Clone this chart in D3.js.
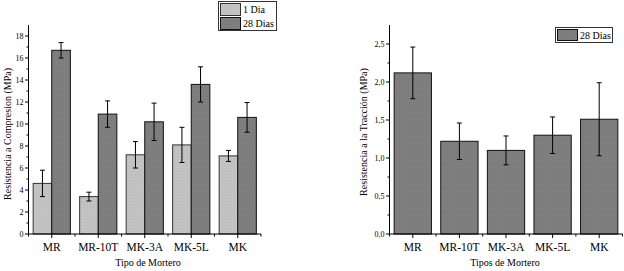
<!DOCTYPE html>
<html><head><meta charset="utf-8">
<script src="https://cdn.jsdelivr.net/npm/d3@7"></script>
<style>body{margin:0;background:#fff}svg{display:block}text{font-family:"Liberation Serif","Times New Roman",serif;fill:#000}</style>
</head><body><svg id="c" width="624" height="271"></svg>
<script>
const categories = ["MR","MR-10T","MK-3A","MK-5L","MK"];
const comp1Dia = [4.6,3.4,7.2,8.1,7.1];
const comp1DiaErr = [1.2,0.4,1.2,1.6,0.5];
const comp28Dias = [16.7,10.9,10.2,13.6,10.6];
const comp28DiasErr = [0.7,1.2,1.7,1.6,1.35];
const trac28Dias = [2.12,1.22,1.1,1.3,1.51];
const trac28DiasErr = [0.34,0.24,0.19,0.24,0.48];
const compTicks = [0,2,4,6,8,10,12,14,16,18];
const tracTicks = [0,0.5,1.0,1.5,2.0,2.5];

const light = "#c4c4c4", dark = "#808080";
const svg = d3.select("#c");
const defs = svg.append("defs");
function pat(id, base, dot){
  const p = defs.append("pattern").attr("id",id).attr("width",3).attr("height",3).attr("patternUnits","userSpaceOnUse");
  p.append("rect").attr("width",3).attr("height",3).attr("fill",base);
  p.append("rect").attr("x",0).attr("y",0).attr("width",1).attr("height",1).attr("fill",dot).attr("opacity",0.5);
  p.append("rect").attr("x",1.5).attr("y",1.5).attr("width",1).attr("height",1).attr("fill",dot).attr("opacity",0.3);
}
pat("pl", light, "#a8a8a8");
pat("pd", dark, "#6a6a6a");

function errBars(g, x, y, vals, errs){
  vals.forEach((v,i)=>{
    const cx = x(i), y1 = y(v+errs[i]), y2 = y(v-errs[i]);
    g.append("line").attr("x1",cx).attr("x2",cx).attr("y1",y1).attr("y2",y2).attr("stroke","#000").attr("stroke-width",1);
    [y1,y2].forEach(yy=>g.append("line").attr("x1",cx-2.5).attr("x2",cx+2.5).attr("y1",yy).attr("y2",yy).attr("stroke","#000").attr("stroke-width",1));
  });
}

function axes(g, x, y, ticks, minorTicks, fmt, x0, x1){
  // x axis
  g.append("line").attr("x1",x0).attr("x2",x1).attr("y1",y(0)).attr("y2",y(0)).attr("stroke","#000");
  const bw = x.bandwidth()/(1-x.paddingInner())*1;
  const step = x.step();
  categories.forEach((c,i)=>{
    const cx = x(c)+x.bandwidth()/2;
    g.append("line").attr("x1",cx).attr("x2",cx).attr("y1",y(0)).attr("y2",y(0)+4).attr("stroke","#000");
    g.append("text").attr("x",cx).attr("y",y(0)+17).attr("text-anchor","middle").attr("font-size",11.5).text(c);
  });
  for(let i=0;i<=categories.length;i++){
    const bx = x0 + i*step;
    g.append("line").attr("x1",bx).attr("x2",bx).attr("y1",y(0)).attr("y2",y(0)+2.5).attr("stroke","#000");
  }
  // y axis
  g.append("line").attr("x1",x0).attr("x2",x0).attr("y1",y(0)).attr("y2",y.range()[1]).attr("stroke","#000");
  ticks.forEach(t=>{
    g.append("line").attr("x1",x0-3.5).attr("x2",x0).attr("y1",y(t)).attr("y2",y(t)).attr("stroke","#000");
    g.append("text").attr("x",x0-5).attr("y",y(t)+2.8).attr("text-anchor","end").attr("font-size",8).text(fmt(t));
  });
  minorTicks.forEach(t=>{
    g.append("line").attr("x1",x0-2).attr("x2",x0).attr("y1",y(t)).attr("y2",y(t)).attr("stroke","#000");
  });
}

// ---- Left chart
{
  const g = svg.append("g");
  const x0 = 28.5, x1 = 261;
  const x = d3.scaleBand().domain(categories).range([x0,x1]).paddingInner(0.2).paddingOuter(0.1);
  const y = d3.scaleLinear().domain([0,19]).range([234,25]);
  const bw = x.bandwidth()/2;
  categories.forEach((c,i)=>{
    g.append("rect").attr("x",x(c)).attr("y",y(comp1Dia[i])).attr("width",bw).attr("height",y(0)-y(comp1Dia[i]))
      .attr("fill","url(#pl)").attr("stroke","#333").attr("stroke-width",1);
    g.append("rect").attr("x",x(c)+bw).attr("y",y(comp28Dias[i])).attr("width",bw).attr("height",y(0)-y(comp28Dias[i]))
      .attr("fill","url(#pd)").attr("stroke","#111").attr("stroke-width",1);
  });
  errBars(g, i=>x(categories[i])+bw/2, y, comp1Dia, comp1DiaErr);
  errBars(g, i=>x(categories[i])+bw*1.5, y, comp28Dias, comp28DiasErr);
  const minor = d3.range(1,19,2);
  axes(g, x, y, compTicks, minor, d=>String(d), x0, x1);
  g.append("text").attr("x",148).attr("y",266).attr("text-anchor","middle").attr("font-size",10).text("Tipo de Mortero");
  g.append("text").attr("transform","translate(11,134) rotate(-90)").attr("text-anchor","middle").attr("font-size",10).text("Resistencia a Compresion (MPa)");
  // legend
  const lg = g.append("g");
  lg.append("rect").attr("x",218.5).attr("y",1.5).attr("width",58).attr("height",29).attr("fill","#fff").attr("stroke","#333");
  lg.append("rect").attr("x",220.5).attr("y",3.5).attr("width",20).attr("height",12).attr("fill","url(#pl)").attr("stroke","#333");
  lg.append("rect").attr("x",220.5).attr("y",17.5).attr("width",20).attr("height",12).attr("fill","url(#pd)").attr("stroke","#111");
  lg.append("text").attr("x",243).attr("y",13).attr("font-size",10).text("1 Dia");
  lg.append("text").attr("x",243).attr("y",27).attr("font-size",10).text("28 Dias");
}

// ---- Right chart
{
  const g = svg.append("g");
  const x0 = 389.5, x1 = 622.5;
  const x = d3.scaleBand().domain(categories).range([x0,x1]).paddingInner(0.2).paddingOuter(0.1);
  const y = d3.scaleLinear().domain([0,2.75]).range([234,25]);
  categories.forEach((c,i)=>{
    g.append("rect").attr("x",x(c)).attr("y",y(trac28Dias[i])).attr("width",x.bandwidth()).attr("height",y(0)-y(trac28Dias[i]))
      .attr("fill","url(#pd)").attr("stroke","#111").attr("stroke-width",1);
  });
  errBars(g, i=>x(categories[i])+x.bandwidth()/2, y, trac28Dias, trac28DiasErr);
  const minor = d3.range(0.25,2.75,0.5);
  axes(g, x, y, tracTicks, minor, d=>d3.format(".1f")(d).replace(".",","), x0, x1);
  g.append("text").attr("x",505).attr("y",266).attr("text-anchor","middle").attr("font-size",10).text("Tipos de Mortero");
  g.append("text").attr("transform","translate(367,132) rotate(-90)").attr("text-anchor","middle").attr("font-size",10).text("Resistencia a  la Tracción (MPa)");
  const lg = g.append("g");
  lg.append("rect").attr("x",555.5).attr("y",27.5).attr("width",57).attr("height",15).attr("fill","#fff").attr("stroke","#333");
  lg.append("rect").attr("x",557.5).attr("y",29.5).attr("width",20).attr("height",11).attr("fill","url(#pd)").attr("stroke","#111");
  lg.append("text").attr("x",580).attr("y",39).attr("font-size",10).text("28 Dias");
}
</script></body></html>
